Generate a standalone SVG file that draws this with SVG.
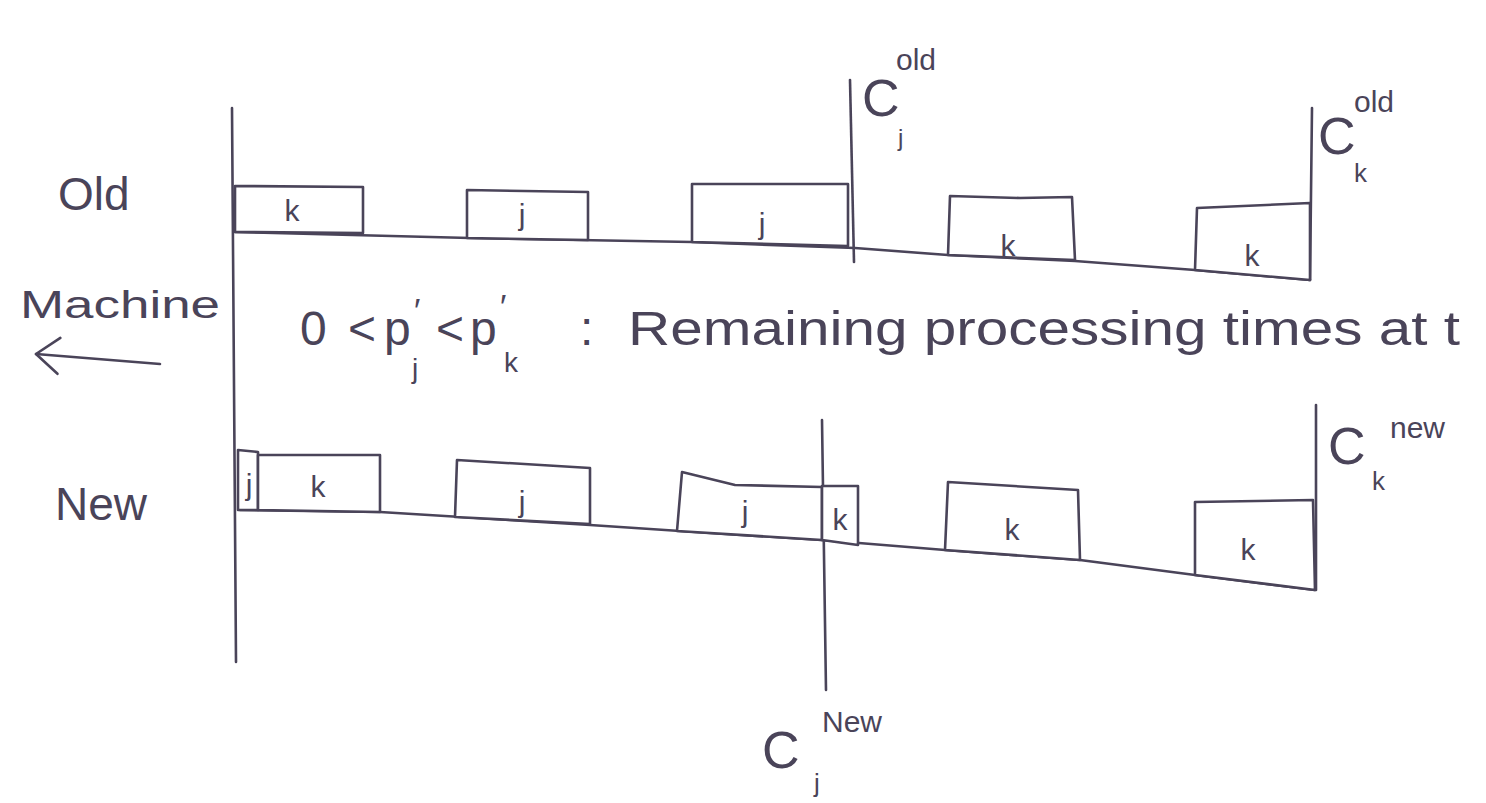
<svg xmlns="http://www.w3.org/2000/svg" width="1486" height="803" viewBox="0 0 1486 803">
<defs>
<style>
.ln{fill:none;stroke:#4a4459;stroke-width:2.6;stroke-linecap:round;stroke-linejoin:round}
.bx{fill:#ffffff;stroke:#4a4459;stroke-width:2.6;stroke-linejoin:round}
.t{font-family:"Liberation Sans","DejaVu Sans",sans-serif;fill:#4a4459}
.lbl{font-size:46px}
.bl{font-size:30px;text-anchor:middle}
.sup{font-size:30px}
.big{font-size:52px}
.f{font-size:48px}
.sub{font-size:28px}
</style>
<marker id="ah" viewBox="0 0 30 40" refX="27" refY="20" markerWidth="30" markerHeight="40" markerUnits="userSpaceOnUse" orient="auto">
<path d="M4,2 L27,20 L4,38" fill="none" stroke="#4a4459" stroke-width="2.6" stroke-linecap="round" stroke-linejoin="round"/>
</marker>
</defs>
<rect width="1486" height="803" fill="#ffffff"/>

<g id="connectors">
<line class="ln" x1="232" y1="108" x2="236" y2="662"/>
<path class="ln" d="M235,232 L470,238 L692,242 L855,248 L948,255 L1075,261 L1195,270 L1310,280"/>
<path class="ln" d="M240,510 L380,512 L590,525 L680,531 L822,540 L945,550 L1080,560 L1195,575 L1315,590"/>
<line class="ln" x1="850" y1="80" x2="854" y2="262" stroke-width="3.5"/>
<line class="ln" x1="1312" y1="108" x2="1310" y2="280"/>
<line class="ln" x1="822" y1="420" x2="826" y2="690"/>
<line class="ln" x1="1316" y1="405" x2="1316" y2="590"/>
<line class="ln" x1="160" y1="364" x2="36" y2="354" marker-end="url(#ah)"/>
</g>

<g id="labels">
<text class="t lbl" x="58" y="210">Old</text>
<text class="t lbl" x="55" y="520">New</text>
<text class="t" x="20" y="318" font-size="38" textLength="200" lengthAdjust="spacingAndGlyphs">Machine</text>
</g>

<g id="old-row">
<g id="old-k1"><path class="bx" d="M235,186 L363,187 L363,233 L235,232 Z"/><text class="t bl" x="292" y="221">k</text></g>
<g id="old-j1"><path class="bx" d="M467,190 L588,192 L588,240 L467,238 Z"/><text class="t bl" x="522" y="225">j</text></g>
<g id="old-j2"><path class="bx" d="M692,184 L848,184 L848,246 L692,242 Z"/><text class="t bl" x="762" y="234">j</text></g>
<g id="old-k2"><path class="bx" d="M950,196 L1020,198 L1072,197 L1075,260 L948,255 Z"/><text class="t bl" x="1008" y="256" font-size="36">k</text></g>
<g id="old-k3"><path class="bx" d="M1197,208 L1310,203 L1310,280 L1195,270 Z"/><text class="t bl" x="1252" y="266" font-size="40">k</text></g>
</g>

<g id="new-row">
<g id="new-j0"><path class="bx" d="M238,450 L258,452 L258,510 L238,510 Z"/><text class="t bl" x="249" y="495" font-size="28">j</text></g>
<g id="new-k1"><path class="bx" d="M258,455 L380,455 L380,512 L258,510 Z"/><text class="t bl" x="318" y="497" font-size="36">k</text></g>
<g id="new-j1"><path class="bx" d="M457,460 L590,468 L590,524 L455,517 Z"/><text class="t bl" x="522" y="512" font-size="34">j</text></g>
<g id="new-j2"><path class="bx" d="M682,472 L735,485 L822,487 L822,540 L677,531 Z"/><text class="t bl" x="745" y="522" font-size="34">j</text></g>
<g id="new-k2"><path class="bx" d="M822,486 L858,486 L858,545 L822,540 Z"/><text class="t bl" x="840" y="530" font-size="28">k</text></g>
<g id="new-k3"><path class="bx" d="M948,482 L1078,490 L1080,560 L945,550 Z"/><text class="t bl" x="1012" y="540" font-size="36">k</text></g>
<g id="new-k4"><path class="bx" d="M1195,502 L1313,500 L1315,590 L1195,575 Z"/><text class="t bl" x="1248" y="560" font-size="38">k</text></g>
</g>

<g id="formula">
<text class="t f" x="300" y="345">0</text>
<text class="t f" x="348" y="345">&lt;</text>
<text class="t f" x="384" y="345">p</text>
<text class="t" x="414" y="322" font-size="34">′</text>
<text class="t sub" x="412" y="378">j</text>
<text class="t f" x="436" y="345">&lt;</text>
<text class="t f" x="470" y="345">p</text>
<text class="t" x="500" y="318" font-size="34">′</text>
<text class="t sub" x="504" y="372">k</text>
<text class="t f" x="580" y="345">:</text>
<text class="t" x="628" y="345" font-size="48" textLength="832" lengthAdjust="spacingAndGlyphs">Remaining processing times at t</text>
</g>

<g id="c-j-old">
<text class="t big" x="862" y="116">C</text>
<text class="t sup" x="896" y="70">old</text>
<text class="t" x="898" y="146" font-size="24">j</text>
</g>
<g id="c-k-old">
<text class="t big" x="1318" y="154">C</text>
<text class="t sup" x="1354" y="112">old</text>
<text class="t" x="1354" y="182" font-size="26">k</text>
</g>
<g id="c-k-new">
<text class="t big" x="1328" y="464">C</text>
<text class="t sup" x="1390" y="438">new</text>
<text class="t" x="1372" y="490" font-size="26">k</text>
</g>
<g id="c-j-new">
<text class="t big" x="762" y="768">C</text>
<text class="t sup" x="822" y="732">New</text>
<text class="t" x="814" y="792" font-size="26">j</text>
</g>
</svg>
